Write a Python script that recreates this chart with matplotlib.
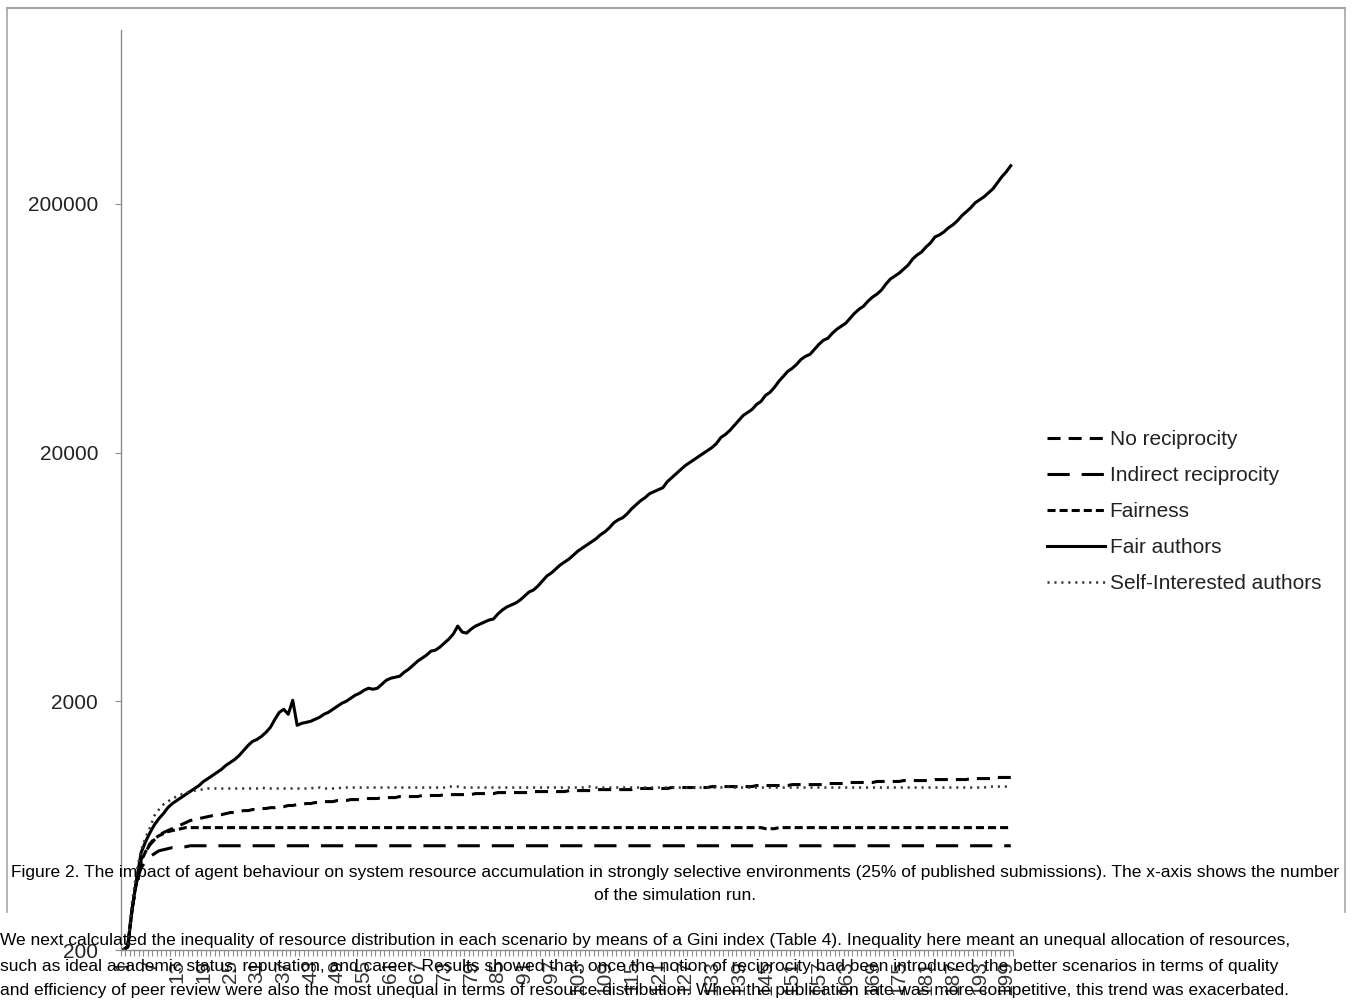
import matplotlib.pyplot as plt
from matplotlib.lines import Line2D
from matplotlib.ticker import FixedLocator, NullLocator

plt.rcParams['font.family'] = ['Liberation Sans', 'DejaVu Sans']
plt.rcParams['lines.scale_dashes'] = False

# simulation runs 1..200
runs = list(range(1, 201))

fair_authors = [
    200, 206, 293, 383, 492, 545, 593, 638, 675, 707,
    747, 776, 798, 820, 843, 867, 892, 917, 952, 978,
    1006, 1034, 1064, 1104, 1135, 1167, 1211, 1269, 1329, 1380,
    1405, 1445, 1500, 1571, 1692, 1806, 1857, 1773, 2019, 1601,
    1630, 1646, 1661, 1692, 1724, 1773, 1806, 1857, 1909, 1963,
    2000, 2056, 2115, 2154, 2215, 2257, 2236, 2257, 2342, 2431,
    2476, 2499, 2523, 2618, 2692, 2794, 2899, 2981, 3066, 3182,
    3211, 3302, 3427, 3557, 3726, 4013, 3795, 3760, 3902, 4013,
    4088, 4165, 4243, 4282, 4486, 4656, 4787, 4877, 4968, 5108,
    5302, 5502, 5605, 5818, 6094, 6383, 6564, 6812, 7070, 7270,
    7475, 7758, 8051, 8279, 8512, 8753, 9000, 9341, 9605, 9968,
    10442, 10737, 10938, 11352, 11891, 12341, 12808, 13170, 13668, 13925,
    14186, 14451, 15279, 15858, 16458, 17080, 17726, 18227, 18742, 19271,
    19816, 20375, 20951, 21744, 22989, 23638, 24533, 25699, 26920, 28199,
    28995, 29814, 31231, 32113, 33952, 34911, 36570, 38665, 40503, 42427,
    43626, 45276, 47428, 48768, 49682, 52042, 54515, 56578, 57638, 60377,
    62662, 64432, 66251, 69400, 72698, 75448, 77580, 81266, 84341, 86723,
    90005, 95160, 99683, 102498, 105394, 109380, 113520, 120022, 124563, 128082,
    134170, 139247, 147226, 149986, 154222, 160057, 164579, 170804, 178926, 185696,
    192723, 201874, 207576, 213438, 221514, 229896, 243068, 256992, 269204, 284626,
]

no_reciprocity = [
    200, 206, 293, 376, 461, 497, 530, 555, 576, 593,
    604, 615, 627, 638, 650, 663, 669, 675, 681, 688,
    694, 700, 700, 707, 714, 714, 720, 727, 727, 734,
    734, 741, 741, 747, 747, 754, 754, 762, 762, 769,
    769, 776, 776, 783, 783, 790, 790, 790, 798, 798,
    798, 805, 805, 805, 813, 813, 813, 813, 820, 820,
    820, 820, 828, 828, 828, 828, 828, 836, 836, 836,
    836, 836, 843, 843, 843, 843, 843, 843, 843, 851,
    851, 851, 851, 851, 859, 859, 859, 859, 859, 859,
    859, 859, 867, 867, 867, 867, 867, 867, 867, 867,
    875, 875, 875, 875, 875, 875, 883, 883, 883, 883,
    883, 883, 883, 883, 883, 892, 892, 892, 892, 892,
    892, 892, 892, 900, 900, 900, 900, 900, 900, 900,
    900, 900, 908, 908, 908, 908, 908, 908, 908, 908,
    908, 908, 917, 917, 917, 917, 917, 917, 917, 917,
    925, 925, 925, 925, 925, 925, 925, 925, 934, 934,
    934, 934, 934, 943, 943, 943, 943, 943, 943, 952,
    952, 952, 952, 952, 952, 960, 960, 960, 960, 960,
    960, 960, 969, 969, 969, 969, 969, 969, 969, 969,
    978, 978, 978, 978, 978, 978, 988, 988, 988, 988,
]

indirect_reciprocity = [
    200, 206, 293, 376, 428, 453, 474, 488, 501, 506,
    511, 516, 516, 520, 520, 525, 525, 525, 525, 525,
    525, 525, 525, 525, 525, 525, 525, 525, 525, 525,
    525, 525, 525, 525, 525, 525, 525, 525, 525, 525,
    525, 525, 525, 525, 525, 525, 525, 525, 525, 525,
    525, 525, 525, 525, 525, 525, 525, 525, 525, 525,
    525, 525, 525, 525, 525, 525, 525, 525, 525, 525,
    525, 525, 525, 525, 525, 525, 525, 525, 525, 525,
    525, 525, 525, 525, 525, 525, 525, 525, 525, 525,
    525, 525, 525, 525, 525, 525, 525, 525, 525, 525,
    525, 525, 525, 525, 525, 525, 525, 525, 525, 525,
    525, 525, 525, 525, 525, 525, 525, 525, 525, 525,
    525, 525, 525, 525, 525, 525, 525, 525, 525, 525,
    525, 525, 525, 525, 525, 525, 525, 525, 525, 525,
    525, 525, 525, 525, 525, 525, 525, 525, 525, 525,
    525, 525, 525, 525, 525, 525, 525, 525, 525, 525,
    525, 525, 525, 525, 525, 525, 525, 525, 525, 525,
    525, 525, 525, 525, 525, 525, 525, 525, 525, 525,
    525, 525, 525, 525, 525, 525, 525, 525, 525, 525,
    525, 525, 525, 525, 525, 525, 525, 525, 525, 525,
]

fairness = [
    200, 206, 293, 383, 453, 497, 535, 561, 576, 587,
    598, 604, 609, 615, 621, 621, 621, 621, 621, 621,
    621, 621, 621, 621, 621, 621, 621, 621, 621, 621,
    621, 621, 621, 621, 621, 621, 621, 621, 621, 621,
    621, 621, 621, 621, 621, 621, 621, 621, 621, 621,
    621, 621, 621, 621, 621, 621, 621, 621, 621, 621,
    621, 621, 621, 621, 621, 621, 621, 621, 621, 621,
    621, 621, 621, 621, 621, 621, 621, 621, 621, 621,
    621, 621, 621, 621, 621, 621, 621, 621, 621, 621,
    621, 621, 621, 621, 621, 621, 621, 621, 621, 621,
    621, 621, 621, 621, 621, 621, 621, 621, 621, 621,
    621, 621, 621, 621, 621, 621, 621, 621, 621, 621,
    621, 621, 621, 621, 621, 621, 621, 621, 621, 621,
    621, 621, 621, 621, 621, 621, 621, 621, 621, 621,
    621, 621, 621, 621, 615, 615, 615, 621, 621, 621,
    621, 621, 621, 621, 621, 621, 621, 621, 621, 621,
    621, 621, 621, 621, 621, 621, 621, 621, 621, 621,
    621, 621, 621, 621, 621, 621, 621, 621, 621, 621,
    621, 621, 621, 621, 621, 621, 621, 621, 621, 621,
    621, 621, 621, 621, 621, 621, 621, 621, 621, 621,
]

self_interested = [
    200, 210, 313, 414, 503, 566, 621, 694, 734, 769,
    790, 813, 828, 843, 859, 867, 875, 883, 883, 892,
    892, 892, 892, 892, 892, 892, 892, 892, 892, 892,
    892, 900, 892, 892, 892, 892, 892, 892, 892, 892,
    892, 892, 892, 900, 900, 892, 892, 892, 892, 900,
    900, 900, 900, 900, 900, 900, 900, 900, 900, 900,
    900, 900, 900, 900, 900, 900, 900, 900, 900, 900,
    900, 900, 900, 908, 908, 908, 900, 900, 900, 900,
    900, 900, 900, 900, 900, 900, 900, 900, 900, 900,
    900, 900, 900, 900, 900, 900, 900, 900, 900, 900,
    900, 900, 900, 900, 908, 908, 900, 900, 900, 900,
    900, 900, 900, 900, 900, 900, 900, 900, 900, 900,
    900, 900, 900, 900, 900, 900, 900, 900, 900, 900,
    900, 900, 900, 900, 900, 908, 908, 900, 900, 900,
    900, 900, 900, 900, 900, 900, 900, 900, 900, 900,
    900, 900, 900, 900, 900, 900, 900, 900, 900, 900,
    900, 900, 900, 900, 900, 900, 900, 900, 900, 900,
    900, 900, 900, 900, 900, 900, 900, 900, 900, 900,
    900, 900, 900, 900, 900, 900, 900, 900, 900, 900,
    900, 900, 900, 900, 908, 908, 908, 908, 908, 908,
]

y_ticks = [200, 2000, 20000, 200000]
y_tick_labels = ['200', '2000', '20000', '200000']
x_label_runs = list(range(1, 201, 6))

caption = [
    'Figure 2. The impact of agent behaviour on system resource accumulation in strongly '
    'selective environments (25% of published submissions). The x-axis shows the number',
    'of the simulation run.',
]
paragraph = [
    'We next calculated the inequality of resource distribution in each scenario by means '
    'of a Gini index (Table 4). Inequality here meant an unequal allocation of resources,',
    'such as ideal academic status, reputation, and career. Results showed that, once the '
    'notion of reciprocity had been introduced, the better scenarios in terms of quality',
    'and efficiency of peer review were also the most unequal in terms of resource '
    'distribution. When the publication rate was more competitive, this trend was exacerbated.',
]

W, H = 1353, 1006
fig = plt.figure(figsize=(W / 100, H / 100), dpi=100)
fig.patch.set_facecolor('white')

# page frame around the figure
frame = '#a6a6a6'
fig.add_artist(Line2D([7 / W, 1345 / W], [1 - 8 / H, 1 - 8 / H], color=frame, lw=1.5))
fig.add_artist(Line2D([7 / W, 7 / W], [1 - 8 / H, 1 - 912 / H], color=frame, lw=1.2))
fig.add_artist(Line2D([1345 / W, 1345 / W], [1 - 8 / H, 1 - 912 / H], color=frame, lw=1.2))

ax = fig.add_axes([121 / W, 1 - 950 / H, 892 / W, 920 / H])
ax.set_facecolor('none')

ax.plot(runs, no_reciprocity, color='black', lw=2.2, dashes=(9.4, 5.8),
        label='No reciprocity')
ax.plot(runs, indirect_reciprocity, color='black', lw=2.2, dashes=(16, 8.6),
        label='Indirect reciprocity')
ax.plot(runs, fairness, color='black', lw=2.2, dashes=(5.8, 2.9),
        label='Fairness')
ax.plot(runs, fair_authors, color='black', lw=2.2, label='Fair authors')
ax.plot(runs, self_interested, color='#333333', lw=1.8, dashes=(1.5, 3.5),
        label='Self-Interested authors')

ax.set_yscale('log')
ax.set_ylim(200, 1e6)
ax.set_xlim(0.5, 200.5)

for s in ['top', 'right']:
    ax.spines[s].set_visible(False)
for s in ['left', 'bottom']:
    ax.spines[s].set_color('#8c8c8c')
    ax.spines[s].set_linewidth(1.0)

ax.yaxis.set_major_locator(FixedLocator(y_ticks))
ax.yaxis.set_minor_locator(NullLocator())
ax.set_yticklabels(y_tick_labels)
ax.tick_params(axis='y', which='major', length=4.5, width=0.8, color='#8c8c8c',
               labelsize=15, pad=12, labelcolor='#222222')

ax.set_xticks(x_label_runs)
ax.set_xticklabels([str(r) for r in x_label_runs], rotation=90, va='top', ha='center')
ax.xaxis.set_minor_locator(FixedLocator([r - 0.5 for r in runs] + [200.5]))
ax.tick_params(axis='x', which='major', length=0, labelsize=15, pad=7,
               labelcolor='#333333')
ax.tick_params(axis='x', which='minor', length=4.5, width=0.8, color='#8c8c8c')

leg = ax.legend(loc='upper left', bbox_to_anchor=(1047 / W, 1 - 430 / H),
                bbox_transform=fig.transFigure, frameon=False, fontsize=15,
                handlelength=2.8, handletextpad=0.2, labelspacing=0.82,
                borderpad=0, borderaxespad=0)
for t in leg.get_texts():
    t.set_color('#222222')

fig.text(675 / W, 1 - 872 / H, caption[0], ha='center', va='center', fontsize=12.5)
fig.text(675 / W, 1 - 896 / H, caption[1], ha='center', va='center', fontsize=12.5)
for i, line in enumerate(paragraph):
    fig.text(0, 1 - (941 + 25 * i) / H, line, ha='left', va='center', fontsize=12.5)

fig.savefig('out.png', dpi=100)
